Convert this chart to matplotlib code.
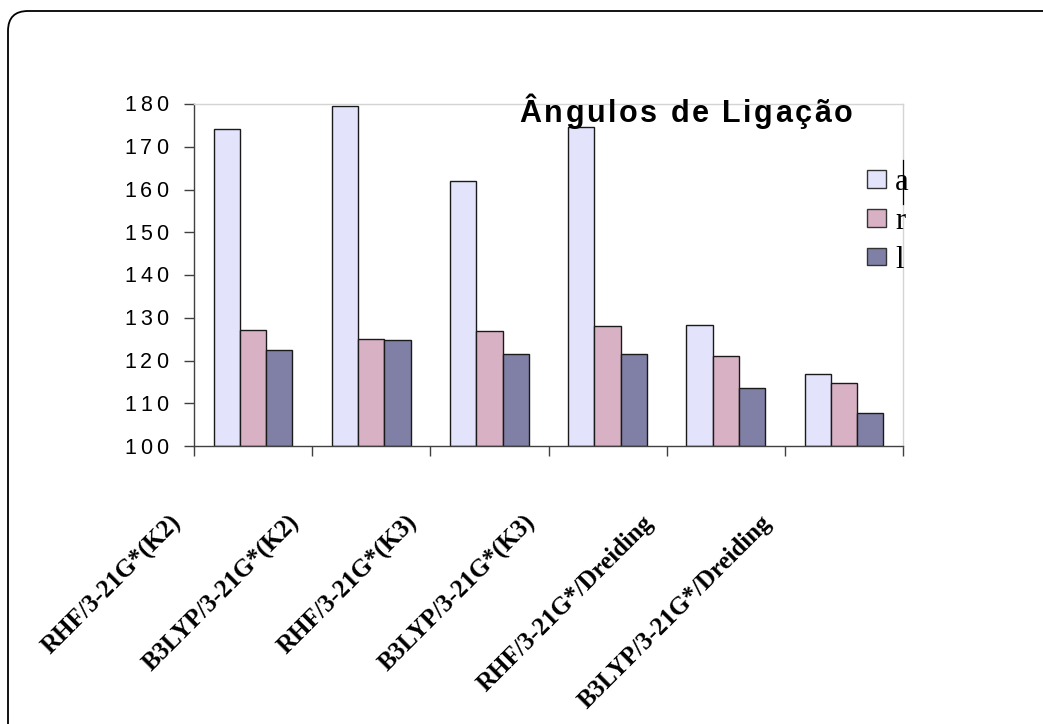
import numpy as np
import matplotlib.pyplot as plt
from matplotlib.patches import FancyBboxPatch, Patch
from matplotlib.font_manager import FontProperties
from matplotlib.textpath import TextToPath
from matplotlib.lines import Line2D
from matplotlib.transforms import IdentityTransform, blended_transform_factory

metodos = ['RHF/3-21G*(K2)', 'B3LYP/3-21G*(K2)', 'RHF/3-21G*(K3)',
           'B3LYP/3-21G*(K3)', 'RHF/3-21G*/Dreiding', 'B3LYP/3-21G*/Dreiding']
ang_a = [174.2, 179.5, 162.1, 174.7, 128.4, 116.9]
ang_r = [127.2, 125.1, 126.9, 128.1, 121.0, 114.8]
ang_l = [122.4, 124.8, 121.6, 121.6, 113.6, 107.8]
series_names = ['a', 'r', 'l']
cores = ['#E3E3FC', '#D8B2C4', '#8080A6']
titulo = 'Ângulos de Ligação'

W, H, DPI = 1043, 724, 100
fig = plt.figure(figsize=(W / DPI, H / DPI), dpi=DPI)
fig.patch.set_facecolor('white')
ttp = TextToPath()


def spaced(txt, x_px, y_px, total, fp, ha='center'):
    # draws txt one glyph at a time with even extra spacing, total width in px
    larg = [ttp.get_text_width_height_descent(ch, fp, ismath=False)[0] * DPI / 72 for ch in txt]
    extra = (total - sum(larg)) / max(len(txt) - 1, 1)
    xp = x_px - total / 2 if ha == 'center' else x_px - total
    for ch, lw_ in zip(txt, larg):
        fig.text(xp / W, 1 - y_px / H, ch, fontproperties=fp, ha='left', va='baseline')
        xp += lw_ + extra


# rounded frame around the chart area (right/bottom run off the page)
frame = FancyBboxPatch((8, -20), 1060, H - 11 + 20, boxstyle='round,pad=0,rounding_size=20',
                       transform=IdentityTransform(), fill=False, ec='black', lw=1.3)
fig.add_artist(frame)

ax = fig.add_axes([194 / W, 1 - 446 / H, (903 - 194) / W, (446 - 104) / H])
x = np.arange(len(metodos))
w = 1 / 4.5
for i, (vals, c) in enumerate(zip([ang_a, ang_r, ang_l], cores)):
    ax.bar(x + (i - 1) * w, np.array(vals) - 100, w, bottom=100, color=c,
           edgecolor='#1a1a1a', linewidth=1.0, label=series_names[i])

ax.set_xlim(-0.5, len(metodos) - 0.5)
ax.set_ylim(100, 180)
yt = np.arange(100, 181, 10)
ax.set_yticks(yt)
ax.set_yticklabels([])
ax.set_xticks(np.arange(-0.5, len(metodos), 1.0))
ax.set_xticklabels([])
ax.tick_params(axis='y', direction='out', length=7, width=1, color='#404040')
ax.tick_params(axis='x', direction='out', length=7, width=1, color='#404040')
for s in ['left', 'bottom']:
    ax.spines[s].set_color('#404040')
    ax.spines[s].set_linewidth(1.0)
for s in ['top', 'right']:
    ax.spines[s].set_color('#d4d4d4')
    ax.spines[s].set_linewidth(1.0)

# y tick labels, slightly letter-spaced
fp_y = FontProperties(family='Liberation Sans', size=15.5)
for v in yt:
    ypx = H - ax.transData.transform((0, v))[1]
    spaced(str(v), 168, ypx + 7.5, 44, fp_y, ha='right')

# rotated category labels
trans = blended_transform_factory(ax.transData, ax.transAxes)
for xi, nome in zip(x, metodos):
    ax.text(xi - 0.57, -0.19, nome, transform=trans, rotation=45, ha='right', va='top',
            family='Liberation Serif', fontweight='bold', fontsize=18)

# letter-spaced bold title
spaced(titulo, 686, 122, 333, FontProperties(family='Liberation Sans', weight='bold', size=22))

handles = [Patch(facecolor=c, edgecolor='#333333', linewidth=1.0) for c in cores]
leg = fig.legend(handles, series_names, loc='upper left',
                 bbox_to_anchor=(867 / W, 1 - 168 / H), frameon=False,
                 prop=FontProperties(family='Liberation Serif', size=22),
                 handlelength=0.62, handleheight=0.5, handletextpad=0.3,
                 labelspacing=0.32, borderaxespad=0, borderpad=0)

fig.add_artist(Line2D([903 / W, 903 / W], [1 - 160 / H, 1 - 204 / H], color='black', lw=0.9))

fig.savefig('out.png', dpi=DPI, facecolor='white')
